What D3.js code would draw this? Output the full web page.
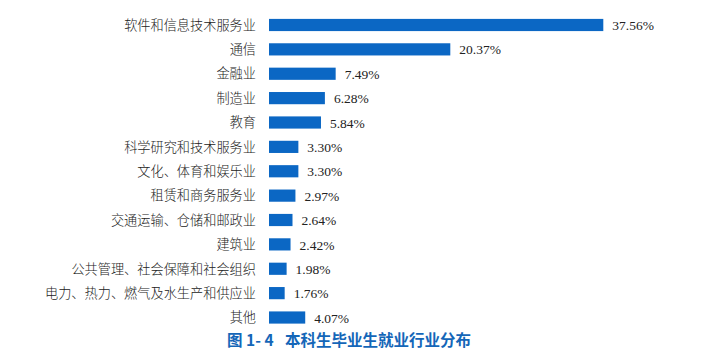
<!DOCTYPE html>
<html><head><meta charset="utf-8">
<script src="https://cdn.jsdelivr.net/npm/d3@7"></script>
<style>body{margin:0;background:#fff}svg{display:block}</style>
</head><body>
<script>
const categories = ["软件和信息技术服务业","通信","金融业","制造业","教育","科学研究和技术服务业","文化、体育和娱乐业","租赁和商务服务业","交通运输、仓储和邮政业","建筑业","公共管理、社会保障和社会组织","电力、热力、燃气及水生产和供应业","其他"];
const values = [37.56,20.37,7.49,6.28,5.84,3.30,3.30,2.97,2.64,2.42,1.98,1.76,4.07];
const valueLabels = ["37.56%","20.37%","7.49%","6.28%","5.84%","3.30%","3.30%","2.97%","2.64%","2.42%","1.98%","1.76%","4.07%"];
const titleParts = ["图 1- 4", "本科生毕业生就业行业分布"];

const W = 716, H = 357;
const svg = d3.select("body").append("svg").attr("width", W).attr("height", H);
const x0 = 269;
const x = d3.scaleLinear().domain([0, 37.56]).range([x0, 603.3]);
const y = d3.scaleBand().domain(categories).range([12.8, 329.7]).paddingInner(0.5).paddingOuter(0.25);

const g = svg.append("g");
g.selectAll("rect").data(values).join("rect")
  .attr("x", x(0))
  .attr("y", (d,i) => y(categories[i]))
  .attr("width", d => x(d) - x(0))
  .attr("height", y.bandwidth())
  .attr("fill", "#0b67c4");

g.selectAll("text.cat").data(categories).join("text")
  .attr("class","cat")
  .attr("x", 256)
  .attr("y", d => y(d) + y.bandwidth()/2)
  .attr("dy", "0.36em")
  .attr("text-anchor","end")
  .attr("font-family","'Noto Sans CJK SC', sans-serif")
  .attr("font-size", 13.2)
  .attr("font-weight", 300)
  .attr("fill","#222")
  .text(d => d);

g.selectAll("text.val").data(values).join("text")
  .attr("class","val")
  .attr("x", d => x(d) + 9)
  .attr("y", (d,i) => y(categories[i]) + y.bandwidth()/2)
  .attr("dy", "0.38em")
  .attr("font-family","'Liberation Serif', serif")
  .attr("font-size", 13.5)
  .attr("fill","#222")
  .text((d,i) => valueLabels[i]);

const t = svg.append("g")
  .attr("font-family","'Noto Sans CJK SC', sans-serif")
  .attr("font-weight", 700)
  .attr("font-size", 15.5)
  .attr("fill","#1466b8");
t.append("text").attr("x", 227).attr("y", 340).attr("dy","0.36em")
  .attr("xml:space","preserve").style("white-space","pre").text(titleParts[0]);
t.append("text").attr("x", 285).attr("y", 340).attr("dy","0.36em").text(titleParts[1]);
</script>
</body></html>
